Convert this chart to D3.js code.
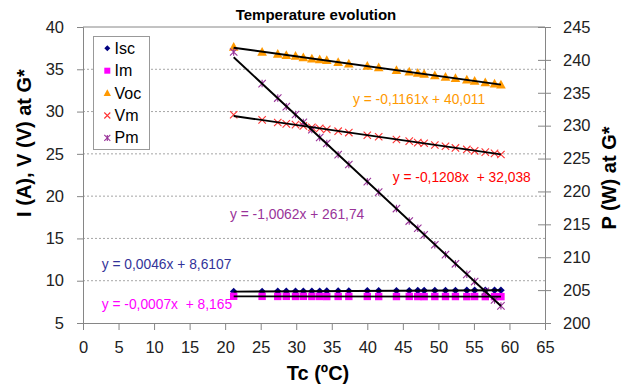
<!DOCTYPE html>
<html><head><meta charset="utf-8">
<script src="https://cdn.jsdelivr.net/npm/d3@7"></script>
<style>body{margin:0;background:#fff}svg{display:block}text{font-family:"Liberation Sans",Arial,sans-serif}</style>
</head><body><svg id="c" width="628" height="390"></svg>
<script>
const tc  = [21.2,25.2,27.4,28.6,29.9,31.0,32.2,33.3,34.3,35.9,37.4,40.0,41.6,44.1,45.9,47.1,48.0,49.5,51.0,52.4,54.0,55.1,56.6,57.9,58.8];
const isc = [8.71,8.72,8.74,8.74,8.75,8.75,8.76,8.76,8.77,8.78,8.78,8.80,8.80,8.81,8.82,8.83,8.83,8.84,8.85,8.85,8.86,8.86,8.87,8.88,8.88];
const im  = [8.16,8.15,8.14,8.15,8.14,8.15,8.14,8.14,8.13,8.14,8.14,8.14,8.13,8.13,8.14,8.13,8.12,8.13,8.13,8.13,8.12,8.13,8.12,8.12,8.12];
const voc = [37.62,37.05,36.80,36.66,36.55,36.40,36.25,36.14,36.05,35.82,35.66,35.37,35.20,34.88,34.70,34.55,34.43,34.27,34.07,33.93,33.76,33.60,33.44,33.28,33.16];
const vm  = [29.62,29.02,28.71,28.55,28.45,28.30,28.13,28.02,27.90,27.68,27.52,27.20,27.02,26.70,26.50,26.33,26.25,26.05,25.90,25.70,25.52,25.36,25.20,25.05,24.92];
const pm  = [241.2,236.4,234.2,232.9,231.7,230.5,229.4,228.2,227.3,225.6,224.1,221.5,219.9,217.4,215.5,214.4,213.4,211.9,210.4,209.0,207.4,206.3,204.8,203.5,202.6];
const seriesNames = ["Isc","Im","Voc","Vm","Pm"];
const trendSlope = [0.0046,-0.0007,-0.1161,-0.1208,-1.0062];
const trendIntercept = [8.6107,8.165,40.011,32.038,261.74];
const trendLabels = ["y = 0,0046x + 8,6107","y = -0,0007x  + 8,165","y = -0,1161x + 40,011","y = -0,1208x  + 32,038","y = -1,0062x + 261,74"];
const xTicks = d3.range(0,66,5);
const yLeftTicks = d3.range(5,41,5);
const yRightTicks = d3.range(200,246,5);

const svg = d3.select("#c");
const L=83,R=545,T=27,B=323;
const x = d3.scaleLinear([0,65],[L,R]);
const yL = d3.scaleLinear([5,40],[B,T]);
const yR = d3.scaleLinear([200,245],[B,T]);
const axisCol="#868686";

svg.append("g").selectAll("line").data(yLeftTicks.filter(v=>v>5&&v<40)).join("line")
  .attr("x1",L).attr("x2",R).attr("y1",d=>yL(d)).attr("y2",d=>yL(d))
  .attr("stroke","#a6a6a6").attr("stroke-dasharray","2,2");
svg.append("line").attr("x1",L).attr("x2",R).attr("y1",T).attr("y2",T).attr("stroke",axisCol);

function styleAxis(g){g.select(".domain").attr("stroke",axisCol);g.selectAll(".tick line").attr("stroke",axisCol);
  g.selectAll("text").attr("font-size",16.5).attr("fill","#222").attr("font-family","Liberation Sans, Arial, sans-serif");}

svg.append("g").attr("transform",`translate(0,${B})`)
  .call(d3.axisBottom(x).tickValues(xTicks).tickSizeOuter(0).tickSize(7).tickPadding(11)).call(styleAxis);
svg.append("g").attr("transform",`translate(${L},0)`)
  .call(d3.axisLeft(yL).tickValues(yLeftTicks).tickSizeOuter(0).tickSize(6).tickPadding(13)).call(styleAxis);
const gr = svg.append("g").attr("transform",`translate(${R},0)`)
  .call(d3.axisRight(yR).tickValues(yRightTicks).tickSizeOuter(0).tickSize(6).tickPadding(12)).call(styleAxis);
gr.selectAll(".tick").append("line").attr("x1",-7).attr("x2",0).attr("stroke",axisCol);

svg.append("text").attr("x",316).attr("y",20).attr("text-anchor","middle").attr("font-weight","bold").attr("font-size",15).text("Temperature evolution");
svg.append("text").attr("x",318).attr("y",380).attr("text-anchor","middle").attr("font-weight","bold").attr("font-size",20).text("Tc (ºC)");
svg.append("text").attr("transform","translate(31,143) rotate(-90)").attr("text-anchor","middle").attr("font-weight","bold").attr("font-size",20).text("I (A), V (V) at G*");
svg.append("text").attr("transform","translate(616,178) rotate(-90)").attr("text-anchor","middle").attr("font-weight","bold").attr("font-size",20).text("P (W) at G*");

const colors = ["#000080","#ff00ff","#ff9900","#ff3333","#993399"];
function marker(g,type,cx,cy,s){
  const c=colors[type];
  if(type===0) g.append("path").attr("d",`M${cx},${cy-s}L${cx+s},${cy}L${cx},${cy+s}L${cx-s},${cy}Z`).attr("fill",c);
  else if(type===1) g.append("rect").attr("x",cx-s).attr("y",cy-s).attr("width",2*s).attr("height",2*s).attr("fill",c);
  else if(type===2) g.append("path").attr("d",`M${cx},${cy-s*1.1}L${cx+s*1.05},${cy+s*0.8}L${cx-s*1.05},${cy+s*0.8}Z`).attr("fill",c);
  else if(type===3) g.append("path").attr("d",`M${cx-s},${cy-s}L${cx+s},${cy+s}M${cx-s},${cy+s}L${cx+s},${cy-s}`).attr("stroke",c).attr("stroke-width",1.1).attr("fill","none");
  else g.append("path").attr("d",`M${cx-s},${cy-s}L${cx+s},${cy+s}M${cx-s},${cy+s}L${cx+s},${cy-s}M${cx},${cy-s}L${cx},${cy+s}`).attr("stroke",c).attr("stroke-width",1.1).attr("fill","none");
}
const seriesVals=[isc,im,voc,vm,pm];
const scales=[yL,yL,yL,yL,yR];
const sizes=[3.8,3.7,4.6,3.7,3.7];
const gm=svg.append("g");
seriesVals.forEach((vals,k)=>{tc.forEach((t,i)=>marker(gm,k,x(t),scales[k](vals[i]),sizes[k]));});

const x0=d3.min(tc),x1=d3.max(tc);
const gt=svg.append("g");
trendSlope.forEach((m,k)=>{
  gt.append("line").attr("x1",x(x0)).attr("x2",x(x1))
    .attr("y1",scales[k](m*x0+trendIntercept[k])).attr("y2",scales[k](m*x1+trendIntercept[k]))
    .attr("stroke","#000").attr("stroke-width",1.9);
});

const labelPos=[[101.7,269],[101.7,309],[353,104],[392.7,182],[230,219]];
const labelCols=["#333399","#ff00ff","#ff9900","#ff0000","#993399"];
trendLabels.forEach((t,k)=>svg.append("text").attr("x",labelPos[k][0]).attr("y",labelPos[k][1])
  .attr("font-size",13.8).attr("fill",labelCols[k]).style("white-space","pre").text(t));

const lg=svg.append("g");
lg.append("rect").attr("x",93.5).attr("y",36.5).attr("width",56).attr("height",113).attr("fill","#fff").attr("stroke","#999");
seriesNames.forEach((n,k)=>{const yy=48.3+k*22.4;marker(lg,k,107.3,yy,k===2?3.5:3);
  lg.append("text").attr("x",114.5).attr("y",yy+5.5).attr("font-size",16).text(n);});
</script></body></html>
